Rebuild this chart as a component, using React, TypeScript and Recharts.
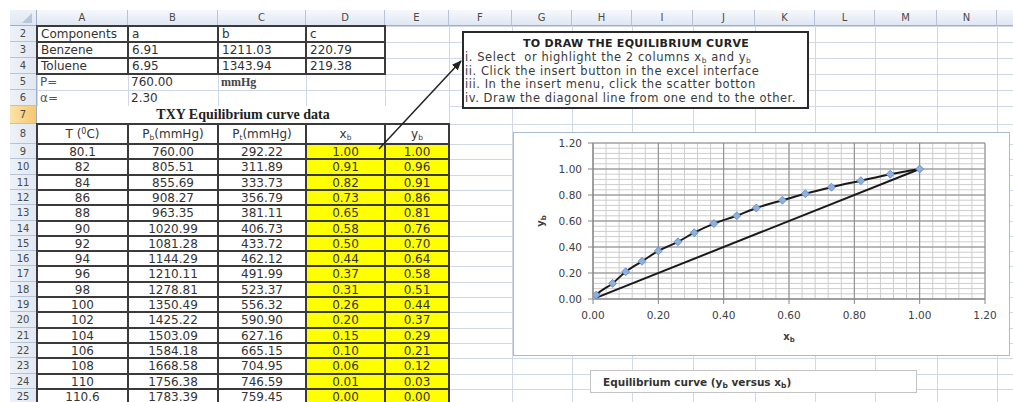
import React from 'react';
import { ComposedChart, Line, XAxis, YAxis, CartesianGrid, Label } from 'recharts';

// ---------- data ----------
const componentNames = ['Benzene', 'Toluene'];
const coefA = ['6.91', '6.95'];
const coefB = ['1211.03', '1343.94'];
const coefC = ['220.79', '219.38'];
const pressure = '760.00';
const alpha = '2.30';

const tempC = ['80.1', '82', '84', '86', '88', '90', '92', '94', '96', '98', '100', '102', '104', '106', '108', '110', '110.6'];
const pBenzene = ['760.00', '805.51', '855.69', '908.27', '963.35', '1020.99', '1081.28', '1144.29', '1210.11', '1278.81', '1350.49', '1425.22', '1503.09', '1584.18', '1668.58', '1756.38', '1783.39'];
const pToluene = ['292.22', '311.89', '333.73', '356.79', '381.11', '406.73', '433.72', '462.12', '491.99', '523.37', '556.32', '590.90', '627.16', '665.15', '704.95', '746.59', '759.45'];
const xB = [1.0, 0.91, 0.82, 0.73, 0.65, 0.58, 0.5, 0.44, 0.37, 0.31, 0.26, 0.2, 0.15, 0.1, 0.06, 0.01, 0.0];
const yB = [1.0, 0.96, 0.91, 0.86, 0.81, 0.76, 0.7, 0.64, 0.58, 0.51, 0.44, 0.37, 0.29, 0.21, 0.12, 0.03, 0.0];

const diagX = [0, 1];
const diagY = [0, 1];

const majorTicks = [0, 0.2, 0.4, 0.6, 0.8, 1.0, 1.2];
const AXIS_MAX = 1.2;
const minorStep = 0.04;

const colLetters = ['A', 'B', 'C', 'D', 'E', 'F', 'G', 'H', 'I', 'J', 'K', 'L', 'M', 'N', ''];

// ---------- layout ----------
const SHEET_LEFT = 10;
const HEADER_TOP = 10;
const HEADER_BOTTOM = 26;
const colEdges = [37, 128, 218, 306, 385, 449, 512, 572, 632, 693, 755, 815, 875, 937, 997, 1057];
const firstRow = 2;
const lastRow = 25;
const rowTop = (r: number) => {
  const upper = [26, 42, 58, 74, 90, 106, 124, 144];
  if (r <= 9) return upper[r - 2];
  return Math.round(144 + (r - 9) * 15.3);
};
const rowH = (r: number) => rowTop(r + 1) - rowTop(r);

const FONT = '"DejaVu Sans", Verdana, sans-serif';

const curveData = xB.map((x, i) => ({ x, y: yB[i] })).reverse();
const diagData = diagX.map((x, i) => ({ x, y: diagY[i] }));

const minorValues: number[] = [];
for (let v = 0; v <= AXIS_MAX + 1e-9; v += minorStep) minorValues.push(Math.round(v * 100) / 100);

const hGen = (values: number[]) => (props: any) => {
  const o = props.offset;
  return values.map((v) => o.top + o.height * (1 - v / AXIS_MAX));
};
const vGen = (values: number[]) => (props: any) => {
  const o = props.offset;
  return values.map((v) => o.left + o.width * (v / AXIS_MAX));
};

type CellProps = {
  c: number;
  r: number;
  span?: number;
  children?: React.ReactNode;
  align?: 'left' | 'center' | 'right';
  border?: boolean;
  bg?: string;
  style?: React.CSSProperties;
};

const Cell = ({ c, r, span = 1, children, align = 'left', border, bg, style }: CellProps) => {
  const left = colEdges[c];
  const right = colEdges[c + span];
  const top = rowTop(r);
  const bottom = rowTop(r + 1);
  const bw = 2;
  return (
    <div
      style={{
        position: 'absolute',
        left: border ? left - 1 : left,
        top: border ? top - 1 : top,
        width: right - left + (border ? bw : 0),
        height: bottom - top + (border ? bw : 0),
        boxSizing: 'border-box',
        border: border ? `${bw}px solid #3a3a3a` : 'none',
        background: bg,
        display: 'flex',
        alignItems: 'center',
        justifyContent: align === 'left' ? 'flex-start' : align === 'right' ? 'flex-end' : 'center',
        paddingLeft: align === 'left' ? 3 : 0,
        fontFamily: FONT,
        fontSize: 12,
        color: '#333',
        whiteSpace: 'nowrap',
        overflow: 'hidden',
        ...style,
      }}
    >
      <span>{children}</span>
    </div>
  );
};

const Diamond = (props: any) => {
  const { cx, cy, index } = props;
  if (cx == null || cy == null) return <g key={`d${index}`} />;
  const r = 4;
  return (
    <path
      key={`d${index}`}
      d={`M${cx},${cy - r}L${cx + r},${cy}L${cx},${cy + r}L${cx - r},${cy}Z`}
      fill="#8fb0dc"
      stroke="#5b86c2"
      strokeWidth={0.8}
    />
  );
};

const XLabel = (props: any) => {
  const vb = props.viewBox || {};
  const x = (vb.x ?? 0) + (vb.width ?? 0) / 2;
  const y = (vb.y ?? 0) + 41;
  return (
    <text x={x} y={y} textAnchor="middle" fontFamily={FONT} fontSize={10} fontWeight="bold" fill="#404040">
      x<tspan fontSize={7} dy={2}>b</tspan>
    </text>
  );
};

const YLabel = (props: any) => {
  const vb = props.viewBox || {};
  const x = 30;
  const y = (vb.y ?? 0) + (vb.height ?? 0) / 2;
  return (
    <text x={x} y={y} textAnchor="middle" transform={`rotate(-90 ${x} ${y})`} fontFamily={FONT} fontSize={10} fontWeight="bold" fill="#404040">
      y<tspan fontSize={7} dy={2}>b</tspan>
    </text>
  );
};

const fmt = (v: number) => v.toFixed(2);

const EquilibriumChart = () => (
  <ComposedChart width={495} height={222} margin={{ top: 10, right: 24, bottom: 16, left: 0 }}>
    <CartesianGrid
      horizontalCoordinatesGenerator={hGen(minorValues)}
      verticalCoordinatesGenerator={vGen(minorValues)}
      stroke="#cdcdcd"
      strokeWidth={1}
    />
    <CartesianGrid
      horizontalCoordinatesGenerator={hGen(majorTicks)}
      verticalCoordinatesGenerator={vGen(majorTicks)}
      stroke="#8a8a8a"
      strokeWidth={1}
    />
    <XAxis
      type="number"
      dataKey="x"
      domain={[0, AXIS_MAX]}
      ticks={majorTicks}
      tickFormatter={fmt}
      allowDataOverflow
      height={40}
      tickSize={5}
      tickMargin={8}
      stroke="#868686"
      tick={{ fontFamily: FONT, fontSize: 10.5, fill: '#404040' }}
    >
      <Label content={<XLabel />} />
    </XAxis>
    <YAxis
      type="number"
      dataKey="y"
      domain={[0, AXIS_MAX]}
      ticks={majorTicks}
      tickFormatter={fmt}
      allowDataOverflow
      width={79}
      tickSize={5}
      tickMargin={6}
      stroke="#868686"
      tick={{ fontFamily: FONT, fontSize: 10.5, fill: '#404040' }}
    >
      <Label content={<YLabel />} />
    </YAxis>
    <Line
      data={diagData}
      dataKey="y"
      type="linear"
      stroke="#1a1a1a"
      strokeWidth={2}
      dot={false}
      isAnimationActive={false}
    />
    <Line
      data={curveData}
      dataKey="y"
      type="monotone"
      stroke="#1a1a1a"
      strokeWidth={2}
      dot={Diamond}
      activeDot={false}
      isAnimationActive={false}
    />
  </ComposedChart>
);

export default function App() {
  const rows: number[] = [];
  for (let r = firstRow; r <= lastRow; r++) rows.push(r);

  const gridLines: React.ReactNode[] = [];
  colEdges.forEach((x, i) =>
    gridLines.push(
      <div key={`v${i}`} style={{ position: 'absolute', left: x, top: HEADER_TOP, width: 1, height: 402 - HEADER_TOP, background: '#d0d7e5' }} />
    )
  );
  rows.forEach((r) =>
    gridLines.push(
      <div key={`h${r}`} style={{ position: 'absolute', left: SHEET_LEFT, top: rowTop(r), width: 1013 - SHEET_LEFT, height: 1, background: '#d0d7e5' }} />
    )
  );

  const headerCells = colLetters.map((l, i) => (
    <div
      key={`ch${i}`}
      style={{
        position: 'absolute',
        left: colEdges[i],
        top: HEADER_TOP,
        width: colEdges[i + 1] - colEdges[i],
        height: HEADER_BOTTOM - HEADER_TOP,
        boxSizing: 'border-box',
        borderRight: '1px solid #b6c3d7',
        borderBottom: '1px solid #9eb0c9',
        background: 'linear-gradient(#f6f8fc, #dfe7f2)',
        display: 'flex',
        alignItems: 'center',
        justifyContent: 'center',
        fontFamily: FONT,
        fontSize: 10,
        color: '#4a4a4a',
      }}
    >
      {l}
    </div>
  ));

  const rowHeaders = rows.map((r) => (
    <div
      key={`rh${r}`}
      style={{
        position: 'absolute',
        left: SHEET_LEFT,
        top: rowTop(r),
        width: colEdges[0] - SHEET_LEFT,
        height: rowH(r),
        boxSizing: 'border-box',
        borderBottom: '1px solid #b6c3d7',
        borderRight: '1px solid #9eb0c9',
        background: r === 7 ? 'linear-gradient(90deg, #fbe3a8, #f6c86d)' : 'linear-gradient(90deg, #eef2f8, #e1e8f2)',
        display: 'flex',
        alignItems: 'center',
        justifyContent: 'center',
        fontFamily: FONT,
        fontSize: 10,
        color: '#4a4a4a',
      }}
    >
      {r}
    </div>
  ));

  const sub = (s: string) => <sub style={{ fontSize: 7.5, verticalAlign: -2, lineHeight: 0 }}>{s}</sub>;

  return (
    <div style={{ position: 'absolute', left: 0, top: 0, width: 1013, height: 402, overflow: 'hidden', background: '#ffffff' }}>
      {gridLines}
      {headerCells}
      <div
        style={{
          position: 'absolute',
          left: SHEET_LEFT,
          top: HEADER_TOP,
          width: colEdges[0] - SHEET_LEFT,
          height: HEADER_BOTTOM - HEADER_TOP,
          boxSizing: 'border-box',
          borderRight: '1px solid #9eb0c9',
          borderBottom: '1px solid #9eb0c9',
          background: 'linear-gradient(#eef2f8, #dfe7f2)',
        }}
      >
        <svg width={26} height={16} style={{ position: 'absolute', left: 0, top: 0 }}>
          <polygon points="22,3 22,13 12,13" fill="#b8c6d9" />
        </svg>
      </div>
      {rowHeaders}

      {/* components table */}
      <Cell c={0} r={2} border>Components</Cell>
      <Cell c={1} r={2} border>a</Cell>
      <Cell c={2} r={2} border>b</Cell>
      <Cell c={3} r={2} border>c</Cell>
      {componentNames.map((n, i) => (
        <React.Fragment key={n}>
          <Cell c={0} r={3 + i} border>{n}</Cell>
          <Cell c={1} r={3 + i} border>{coefA[i]}</Cell>
          <Cell c={2} r={3 + i} border>{coefB[i]}</Cell>
          <Cell c={3} r={3 + i} border>{coefC[i]}</Cell>
        </React.Fragment>
      ))}
      <Cell c={0} r={5} style={{ color: '#555' }}>P=</Cell>
      <Cell c={1} r={5}>{pressure}</Cell>
      <Cell c={2} r={5} style={{ fontFamily: '"Liberation Serif", serif', fontWeight: 'bold', fontSize: 12, color: '#444' }}>mmHg</Cell>
      <Cell c={0} r={6} style={{ color: '#555' }}>α=</Cell>
      <Cell c={1} r={6}>{alpha}</Cell>
      <Cell c={0} r={7} span={5} align="center" style={{ fontFamily: '"Liberation Serif", serif', fontWeight: 'bold', fontSize: 14, color: '#222', background: '#fff' }}>
        TXY Equilibrium curve data
      </Cell>

      {/* data table header */}
      <Cell c={0} r={8} border align="center" bg="#fff">T (<sup style={{ fontSize: 8, verticalAlign: 4, lineHeight: 0 }}>0</sup>C)</Cell>
      <Cell c={1} r={8} border align="center" bg="#fff">P{sub('b')}(mmHg)</Cell>
      <Cell c={2} r={8} border align="center" bg="#fff">P{sub('t')}(mmHg)</Cell>
      <Cell c={3} r={8} border align="center" bg="#fff">x{sub('b')}</Cell>
      <Cell c={4} r={8} border align="center" bg="#fff">y{sub('b')}</Cell>
      {tempC.map((t, i) => (
        <React.Fragment key={`row${i}`}>
          <Cell c={0} r={9 + i} border align="center" bg="#fff">{t}</Cell>
          <Cell c={1} r={9 + i} border align="center" bg="#fff">{pBenzene[i]}</Cell>
          <Cell c={2} r={9 + i} border align="center" bg="#fff">{pToluene[i]}</Cell>
          <Cell c={3} r={9 + i} border align="center" bg="#ffff00">{xB[i].toFixed(2)}</Cell>
          <Cell c={4} r={9 + i} border align="center" bg="#ffff00">{yB[i].toFixed(2)}</Cell>
        </React.Fragment>
      ))}

      {/* instruction text box */}
      <div
        style={{
          position: 'absolute',
          left: 462,
          top: 31,
          width: 347,
          height: 78,
          boxSizing: 'border-box',
          border: '2px solid #2a2a2a',
          background: '#fff',
          fontFamily: FONT,
          fontSize: 11.5,
          letterSpacing: 0.55,
          color: '#3a3a3a',
          padding: '4px 0 0 1px',
          lineHeight: '13.8px',
          whiteSpace: 'nowrap',
        }}
      >
        <div style={{ textAlign: 'center', fontWeight: 'bold', fontSize: 11, letterSpacing: 0.3, color: '#222' }}>TO DRAW THE EQUILIBRIUM CURVE</div>
        <div>i. Select&nbsp; or highlight the 2 columns x{sub('b')} and y{sub('b')}</div>
        <div>ii. Click the insert button in the excel interface</div>
        <div>iii. In the insert menu, click the scatter botton</div>
        <div>iv. Draw the diagonal line from one end to the other.</div>
      </div>

      {/* arrow */}
      <svg width={1013} height={402} style={{ position: 'absolute', left: 0, top: 0, pointerEvents: 'none' }}>
        <defs>
          <marker id="ah" markerWidth="10" markerHeight="8" refX="9" refY="4" orient="auto" markerUnits="userSpaceOnUse">
            <path d="M0,0 L10,4 L0,8 Z" fill="#222" />
          </marker>
        </defs>
        <line x1={379} y1={149} x2={461} y2={61} stroke="#222" strokeWidth={1.5} markerEnd="url(#ah)" />
      </svg>

      {/* chart */}
      <div
        style={{
          position: 'absolute',
          left: 513,
          top: 132,
          width: 497,
          height: 224,
          boxSizing: 'border-box',
          border: '1px solid #a9bcd6',
          background: '#fff',
        }}
      >
        <EquilibriumChart />
      </div>

      {/* chart caption box */}
      <div
        style={{
          position: 'absolute',
          left: 590,
          top: 370,
          width: 327,
          height: 23,
          boxSizing: 'border-box',
          border: '1px solid #c4c4c4',
          background: '#fff',
          fontFamily: FONT,
          fontWeight: 'bold',
          fontSize: 10.5,
          color: '#333',
          display: 'flex',
          alignItems: 'center',
          paddingLeft: 12,
          whiteSpace: 'nowrap',
        }}
      >
        <span>Equilibrium curve (y{sub('b')} versus x{sub('b')})</span>
      </div>
    </div>
  );
}
